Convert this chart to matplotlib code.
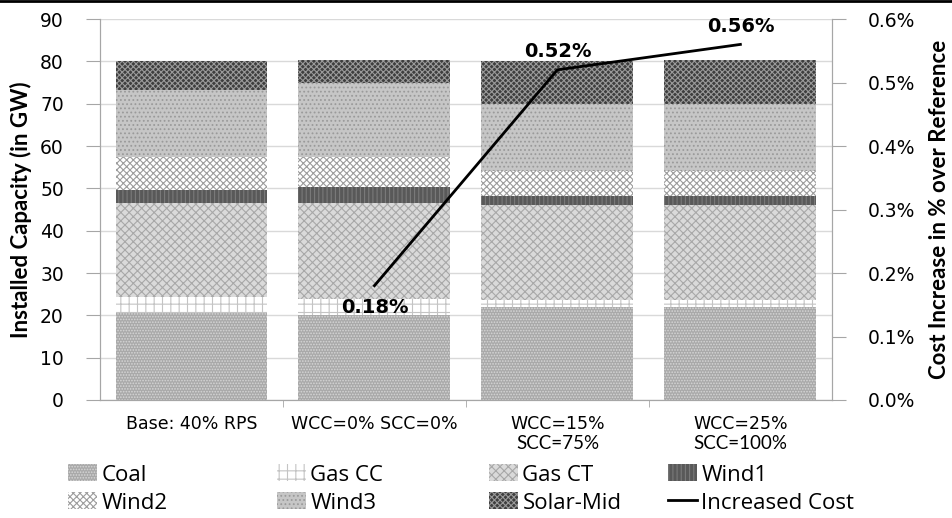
import numpy as np
import matplotlib
matplotlib.use('Agg')
import matplotlib.pyplot as plt
from matplotlib.lines import Line2D
from matplotlib.patches import Patch
from matplotlib.ticker import FuncFormatter, FixedLocator

plt.rcParams['hatch.linewidth'] = 0.8

# 数据
categories = ['Base: 40% RPS', 'WCC=0% SCC=0%', 'WCC=15%', 'WCC=25%']
categories_line2 = ['', '', 'SCC=75%', 'SCC=100%']
coal = [20.6, 20.1, 21.9, 21.9]
gas_cc = [3.8, 3.7, 1.7, 1.7]
gas_ct = [22.2, 22.8, 22.5, 22.5]
wind1 = [3.0, 3.6, 2.2, 2.2]
wind2 = [7.9, 7.3, 5.8, 5.8]
wind3 = [15.7, 17.5, 15.8, 15.8]
solar_mid = [6.9, 5.3, 10.2, 10.3]
cost_increase = [np.nan, 0.18, 0.52, 0.56]  # %
cost_labels = ['', '0.18%', '0.52%', '0.56%']

series = [
    ('Coal', coal, '#a9a9a9', '......', '#d6d6d6'),
    ('Gas CC', gas_cc, 'white', '++', '#c4c4c4'),
    ('Gas CT', gas_ct, '#dadada', 'xxxx', '#a8a8a8'),
    ('Wind1', wind1, '#595959', '||||', '#7a7a7a'),
    ('Wind2', wind2, 'white', 'xxxxx', '#9c9c9c'),
    ('Wind3', wind3, '#c6c6c6', '....', '#9a9a9a'),
    ('Solar-Mid', solar_mid, '#3e3e3e', 'xxxxxx', '#9a9a9a'),
]

grid_gray = '#d9d9d9'
axis_gray = '#a6a6a6'
tick_font = 'DejaVu Sans'
label_font = ['Lato', 'DejaVu Sans']
legend_font = ['Open Sans', 'DejaVu Sans']

fig = plt.figure(figsize=(9.53, 5.18), dpi=100)
ax = fig.add_axes([0.1049, 0.2278, 0.768, 0.7355])
ax2 = ax.twinx()

x = np.arange(len(categories))
bottom = np.zeros(len(categories))
handles = {}
for name, vals, face, hatch, hcol in series:
    ax.bar(x, vals, width=0.83, bottom=bottom, color=face, hatch=hatch,
           edgecolor=hcol, linewidth=0, zorder=2)
    handles[name] = Patch(facecolor=face, hatch=hatch, edgecolor=hcol, linewidth=0)
    bottom += np.array(vals)

ax.set_xlim(-0.5, len(categories) - 0.5)
ax.set_ylim(0, 90)
ax.set_yticks(np.arange(0, 91, 10))
ax.yaxis.grid(True, color=grid_gray, linewidth=1, zorder=0)
ax.set_axisbelow(True)
for s in ['top']:
    ax.spines[s].set_visible(False)
    ax2.spines[s].set_visible(False)
for s in ['left', 'bottom', 'right']:
    ax.spines[s].set_color(axis_gray)
    ax2.spines[s].set_color(axis_gray)
ax.tick_params(axis='y', length=10, color=axis_gray, labelsize=13.5, pad=16)
for t in ax.get_yticklabels():
    t.set_fontfamily(tick_font)

ax.set_xticks(x)
ax.set_xticklabels(categories, fontsize=12.5, fontfamily=tick_font)
ax.tick_params(axis='x', length=0, pad=11)
ax.xaxis.set_minor_locator(FixedLocator(np.arange(0.5, len(categories) - 1, 1)))
ax.tick_params(axis='x', which='minor', length=5, color=axis_gray)
for i, txt in enumerate(categories_line2):
    if txt:
        ax.annotate(txt, xy=(x[i], 0), xycoords=('data', 'axes fraction'),
                    xytext=(0, -31), textcoords='offset points',
                    ha='center', va='center', fontsize=13.5, fontfamily='Lato')

ax.set_ylabel('Installed Capacity (in GW)', fontsize=16, fontweight='bold',
              fontfamily=label_font, labelpad=6)

# 成本曲线
ax2.plot(x, cost_increase, color='black', linewidth=2, zorder=5)
ax2.set_ylim(0, 0.6)
ax2.set_yticks(np.arange(0, 0.61, 0.1))
ax2.yaxis.set_major_formatter(FuncFormatter(lambda v, p: '%.1f%%' % v))
ax2.tick_params(axis='y', length=10, color=axis_gray, labelsize=13.5, pad=16)
for t in ax2.get_yticklabels():
    t.set_fontfamily(tick_font)
ax2.set_ylabel('Cost Increase in % over Reference', fontsize=16, fontweight='bold',
               fontfamily=label_font, labelpad=10)

offsets = [0, -16, 13, 13]
for i, lab in enumerate(cost_labels):
    if lab:
        ax2.annotate(lab, xy=(x[i], cost_increase[i]), xytext=(0, offsets[i]),
                     textcoords='offset points', ha='center', va='center',
                     fontsize=14, fontweight='bold', fontfamily=tick_font)

# 图例
cost_handle = Line2D([0], [0], color='black', linewidth=2)
legend_cols = [
    (68, ['Coal', 'Wind2']),
    (277, ['Gas CC', 'Wind3']),
    (489, ['Gas CT', 'Solar-Mid']),
    (668, ['Wind1', 'Increased Cost']),
]
for xpos, names in legend_cols:
    hs = [handles.get(n, cost_handle) for n in names]
    fig.legend(hs, names, loc='center left', bbox_to_anchor=(xpos / 953, 1 - 489 / 518),
               frameon=False, borderpad=0, borderaxespad=0, handlelength=1.3,
               handleheight=0.8, handletextpad=0.2, labelspacing=0.3,
               prop={'family': legend_font, 'size': 16})

fig.add_artist(Line2D([0, 1], [0.999, 0.999], transform=fig.transFigure,
                      color='black', linewidth=2))

plt.savefig('out.png', dpi=100)
